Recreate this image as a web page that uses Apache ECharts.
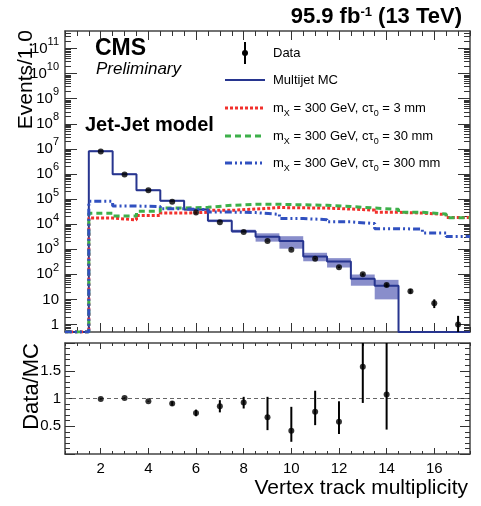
<!DOCTYPE html>
<html>
<head>
<meta charset="utf-8" />
<title>Vertex track multiplicity</title>
<style type="text/css">
html,body{margin:0px;padding:0px;background:#fff}
#chart{width:481px;height:506px}
</style>
<script src="https://cdn.jsdelivr.net/npm/echarts@6/dist/echarts.min.js"></script>
</head>
<body>
<div id="chart"></div>
<script type="text/javascript">
// bin centres (width 1.0), 0 = empty bin
var bins = [1, 2, 3, 4, 5, 6, 7, 8, 9, 10, 11, 12, 13, 14, 15, 16, 17];

var mcValues = [0, 8.1e6, 9.8e5, 2.24e5, 8.5e4, 3.8e4, 1.35e4, 5.2e3, 3.1e3, 2.1e3, 510, 325, 66, 35, 0, 0, 0];
var mcLow    = [0, 7.6e6, 9.2e5, 2.1e5, 7.9e4, 3.5e4, 1.2e4, 4.5e3, 2.0e3, 1.05e3, 330, 186, 35, 10, 0, 0, 0];
var mcHigh   = [0, 8.7e6, 1.05e6, 2.4e5, 9.1e4, 4.2e4, 1.5e4, 6.0e3, 4.3e3, 3.3e3, 720, 440, 98, 60, 0, 0, 0];

var dataValues = [0, 7.9e6, 9.5e5, 2.24e5, 7.8e4, 2.9e4, 1.2e4, 4.9e3, 2.1e3, 950, 415, 190, 100, 37, 21, 7, 1];
var dataLow    = [0, 7.9e6, 9.5e5, 2.23e5, 7.75e4, 2.88e4, 1.19e4, 4.83e3, 2.05e3, 920, 395, 176, 90, 31, 17, 4.5, 0];
var dataHigh   = [0, 7.9e6, 9.5e5, 2.25e5, 7.85e4, 2.92e4, 1.21e4, 4.97e3, 2.15e3, 980, 435, 204, 110, 43, 26, 10, 2.2];

var sig3mm   = [0, 17400, 14800, 21900, 27500, 29500, 35500, 39800, 45700, 44700, 43600, 39800, 36300, 29500, 27500, 24000, 18200];
var sig30mm  = [0, 26900, 20900, 32400, 43600, 46800, 56200, 61700, 61700, 58900, 56200, 50100, 43600, 38900, 29500, 25100, 17800];
var sig300mm = [0, 81300, 52500, 50100, 40700, 38000, 30200, 28800, 24500, 16600, 15100, 12300, 10500, 6600, 6300, 4400, 3200];

var ratioBins   = [2, 3, 4, 5, 6, 7, 8, 9, 10, 11, 12, 13, 14];
var ratioValues = [0.99, 1.01, 0.95, 0.91, 0.74, 0.86, 0.93, 0.66, 0.42, 0.76, 0.58, 1.57, 1.07];
var ratioLow    = [0.98, 1.00, 0.94, 0.87, 0.68, 0.75, 0.82, 0.43, 0.22, 0.52, 0.36, 0.92, 0.44];
var ratioHigh   = [1.00, 1.02, 0.96, 0.95, 0.80, 0.97, 1.03, 1.03, 0.85, 1.14, 0.95, 2.40, 2.60];

var yTicks = [1, 10, 1e2, 1e3, 1e4, 1e5, 1e6, 1e7, 1e8, 1e9, 1e10, 1e11];
var xTicks = [2, 4, 6, 8, 10, 12, 14, 16];

var FONT = '"Liberation Sans", Arial, Helvetica, sans-serif';
var frameColor = '#444', tickColor = '#333';
var mcColor = '#27358f', bandColor = 'rgba(40,50,160,0.55)';
var red = '#f2302c', green = '#3db04a', blue = '#3050c0';
var dot3 = [3, 2], dash30 = [6, 4], dash300 = [7, 3, 2, 3, 2, 3];
var yMin = 0.5, yMax = 5e11;

function floorVal(v){ return v > yMin ? v : yMin; }

// histogram outline as step points on the bin edges
function stepPoints(values){
	var pts = [];
	for (var i = 0; i < bins.length; i++) pts.push([bins[i] - 0.5, floorVal(values[i])]);
	pts.push([bins[bins.length - 1] + 0.5, floorVal(values[values.length - 1])]);
	return pts;
}

// minor log ticks 2..9 x 10^n
var logMinor = [];
for (var e = -1; e <= 11; e++) {
	for (var k = 2; k <= 9; k++) {
		var t = k * Math.pow(10, e);
		if (t > yMin && t < yMax) logMinor.push(t);
	}
}

var bandData = [], dataPts = [], dataErr = [];
for (var i = 0; i < bins.length; i++) {
	if (mcValues[i] > 0) bandData.push([bins[i], mcLow[i], mcHigh[i]]);
	if (dataValues[i] > 0) {
		dataPts.push([bins[i], dataValues[i]]);
		dataErr.push([bins[i], floorVal(dataLow[i]), dataHigh[i]]);
	}
}
var ratioPts = [], ratioErr = [];
for (var j = 0; j < ratioBins.length; j++) {
	ratioPts.push([ratioBins[j], ratioValues[j]]);
	ratioErr.push([ratioBins[j], ratioLow[j], ratioHigh[j]]);
}

function errorBar(params, api){
	var p1 = api.coord([api.value(0), api.value(1)]);
	var p2 = api.coord([api.value(0), api.value(2)]);
	return {type: 'line', shape: {x1: p1[0], y1: p1[1], x2: p2[0], y2: p2[1]},
		style: {stroke: '#000', lineWidth: 2}};
}
function bandRect(params, api){
	var a = api.coord([api.value(0) - 0.5, api.value(2)]);
	var b = api.coord([api.value(0) + 0.5, api.value(1)]);
	return {type: 'rect', shape: {x: a[0], y: a[1], width: b[0] - a[0], height: b[1] - a[1]},
		style: {fill: bandColor}};
}

function xMajor(grid, pos, len, showLabel){
	return {type: 'value', gridIndex: grid, position: pos, min: 0.5, max: 17.5,
		axisLine: {show: true, onZero: false, lineStyle: {color: frameColor, width: 1.5}},
		axisTick: {show: true, inside: true, length: len, customValues: xTicks, lineStyle: {color: tickColor}},
		axisLabel: {show: showLabel, customValues: xTicks, margin: 7, fontSize: 15, color: '#000', fontFamily: FONT},
		splitLine: {show: false}};
}
function xMinor(grid, pos, len){
	return {type: 'value', gridIndex: grid, position: pos, min: 0.5, max: 17.5, interval: 0.5,
		axisLine: {show: false, onZero: false},
		axisTick: {show: true, inside: true, length: len, lineStyle: {color: tickColor}},
		axisLabel: {show: false}, splitLine: {show: false}};
}
function yLog(pos, ticks, len, showLabel, showLine){
	return {type: 'log', logBase: 10, gridIndex: 0, position: pos, min: yMin, max: yMax,
		axisLine: {show: showLine, onZero: false, lineStyle: {color: frameColor, width: 1.5}},
		axisTick: {show: true, inside: true, length: len, customValues: ticks, lineStyle: {color: tickColor}},
		axisLabel: {show: showLabel, customValues: ticks, margin: 6, color: '#000', fontFamily: FONT,
			fontSize: 15, lineHeight: 24,
			formatter: function(v){
				var n = Math.round(Math.log(v) / Math.LN10);
				if (n === 0) return '1';
				if (n === 1) return '10';
				return '10{sup|' + n + '}';
			},
			rich: {sup: {fontSize: 11, lineHeight: 12, verticalAlign: 'top', fontFamily: FONT, color: '#000'}}},
		splitLine: {show: false}};
}
function yRatio(pos, showLabel){
	return {type: 'value', gridIndex: 1, position: pos, min: 0, max: 2, interval: 0.5,
		axisLine: {show: true, onZero: false, lineStyle: {color: frameColor, width: 1.5}},
		axisTick: {show: true, inside: true, length: 10, lineStyle: {color: tickColor}},
		minorTick: {show: true, splitNumber: 5, length: 5, lineStyle: {color: tickColor}},
		axisLabel: {show: showLabel, showMinLabel: false, showMaxLabel: false, margin: 4,
			fontSize: 15, color: '#000', fontFamily: FONT},
		splitLine: {show: false}, minorSplitLine: {show: false}};
}

function histLine(name, values, color, width, type){
	return {name: name, type: 'line', xAxisIndex: 0, yAxisIndex: 0, step: 'end',
		data: stepPoints(values), symbol: 'none', clip: true, silent: true,
		lineStyle: {color: color, width: width, type: type}};
}

function legendLine(y, color, width, dash){
	return {type: 'line', shape: {x1: 225, y1: y, x2: 265, y2: y},
		style: {stroke: color, lineWidth: width, lineDash: dash}};
}
function legendText(y, text){
	return {type: 'text', x: 273, y: y, style: {text: text, font: '13px ' + FONT, fill: '#000',
		lineHeight: 20, verticalAlign: 'middle',
		rich: {sub: {fontSize: 9, lineHeight: 10, verticalAlign: 'bottom', fontFamily: FONT}}}};
}

var option = {
	animation: false,
	textStyle: {fontFamily: FONT},
	grid: [
		{left: 65, top: 31, width: 405, height: 301, outerBoundsMode: 'none'},
		{left: 65, top: 343, width: 405, height: 111, outerBoundsMode: 'none'}
	],
	xAxis: [
		xMajor(0, 'bottom', 9, false), xMinor(0, 'bottom', 5),
		xMajor(0, 'top', 9, false), xMinor(0, 'top', 5),
		xMajor(1, 'bottom', 6, true), xMinor(1, 'bottom', 3),
		xMajor(1, 'top', 6, false), xMinor(1, 'top', 3)
	],
	yAxis: [
		yLog('left', yTicks, 12, true, true), yLog('left', logMinor, 6, false, false),
		yLog('right', yTicks, 12, false, true), yLog('right', logMinor, 6, false, false),
		yRatio('left', true), yRatio('right', false)
	],
	series: [
		{name: 'MC unc.', type: 'custom', xAxisIndex: 0, yAxisIndex: 0, renderItem: bandRect,
			data: bandData, encode: {x: 0, y: [1, 2]}, clip: true, silent: true, z: 1},
		histLine('Multijet MC', mcValues, mcColor, 2, 'solid'),
		histLine('3 mm', sig3mm, red, 3, dot3),
		histLine('30 mm', sig30mm, green, 3, dash30),
		histLine('300 mm', sig300mm, blue, 3, dash300),
		{name: 'Data err', type: 'custom', xAxisIndex: 0, yAxisIndex: 0, renderItem: errorBar,
			data: dataErr, encode: {x: 0, y: [1, 2]}, clip: true, silent: true, z: 5},
		{name: 'Data', type: 'scatter', xAxisIndex: 0, yAxisIndex: 0, data: dataPts,
			symbol: 'circle', symbolSize: 6, itemStyle: {color: '#000'}, silent: true, z: 6},
		{name: 'Ratio err', type: 'custom', xAxisIndex: 4, yAxisIndex: 4, renderItem: errorBar,
			data: ratioErr, encode: {x: 0, y: [1, 2]}, clip: true, silent: true, z: 5},
		{name: 'Ratio', type: 'scatter', xAxisIndex: 4, yAxisIndex: 4, data: ratioPts,
			symbol: 'circle', symbolSize: 6, itemStyle: {color: '#000'}, silent: true, z: 6,
			markLine: {silent: true, symbol: ['none', 'none'], label: {show: false},
				lineStyle: {color: '#666', width: 1, type: [4, 3]}, data: [{yAxis: 1}]}}
	],
	graphic: [
		{type: 'text', x: 462, y: 17, style: {text: '95.9 fb{sup|-1} (13 TeV)', font: 'bold 22px ' + FONT,
			fill: '#000', align: 'right', verticalAlign: 'middle',
			rich: {sup: {fontSize: 13, fontWeight: 'bold', lineHeight: 12, verticalAlign: 'top', fontFamily: FONT}}}},
		{type: 'text', x: 95, y: 49, style: {text: 'CMS', font: 'bold 23px ' + FONT, fill: '#000', verticalAlign: 'middle'}},
		{type: 'text', x: 96, y: 69, style: {text: 'Preliminary', font: 'italic 17px ' + FONT, fill: '#000', verticalAlign: 'middle'}},
		{type: 'text', x: 85, y: 125, style: {text: 'Jet-Jet model', font: 'bold 20px ' + FONT, fill: '#000', verticalAlign: 'middle'}},
		{type: 'text', x: 26, y: 30, rotation: Math.PI / 2,
			style: {text: 'Events/1.0', font: '21px ' + FONT, fill: '#000', align: 'right', verticalAlign: 'middle'}},
		{type: 'text', x: 32, y: 343, rotation: Math.PI / 2,
			style: {text: 'Data/MC', font: '22px ' + FONT, fill: '#000', align: 'right', verticalAlign: 'middle'}},
		{type: 'text', x: 468, y: 488,
			style: {text: 'Vertex track multiplicity', font: '21px ' + FONT, fill: '#000', align: 'right', verticalAlign: 'middle'}},
		// legend
		{type: 'line', shape: {x1: 245, y1: 42, x2: 245, y2: 64}, style: {stroke: '#000', lineWidth: 2}},
		{type: 'circle', shape: {cx: 245, cy: 53, r: 3}, style: {fill: '#000'}},
		legendText(53, 'Data'),
		legendLine(80, mcColor, 2, null),
		legendText(80, 'Multijet MC'),
		legendLine(108, red, 3, dot3),
		legendText(108, 'm{sub|X} = 300 GeV, c\u03c4{sub|0} = 3 mm'),
		legendLine(136, green, 3, dash30),
		legendText(136, 'm{sub|X} = 300 GeV, c\u03c4{sub|0} = 30 mm'),
		legendLine(163, blue, 3, dash300),
		legendText(163, 'm{sub|X} = 300 GeV, c\u03c4{sub|0} = 300 mm')
	]
};

var chart = echarts.init(document.getElementById('chart'));
chart.setOption(option);
</script>
</body>
</html>
